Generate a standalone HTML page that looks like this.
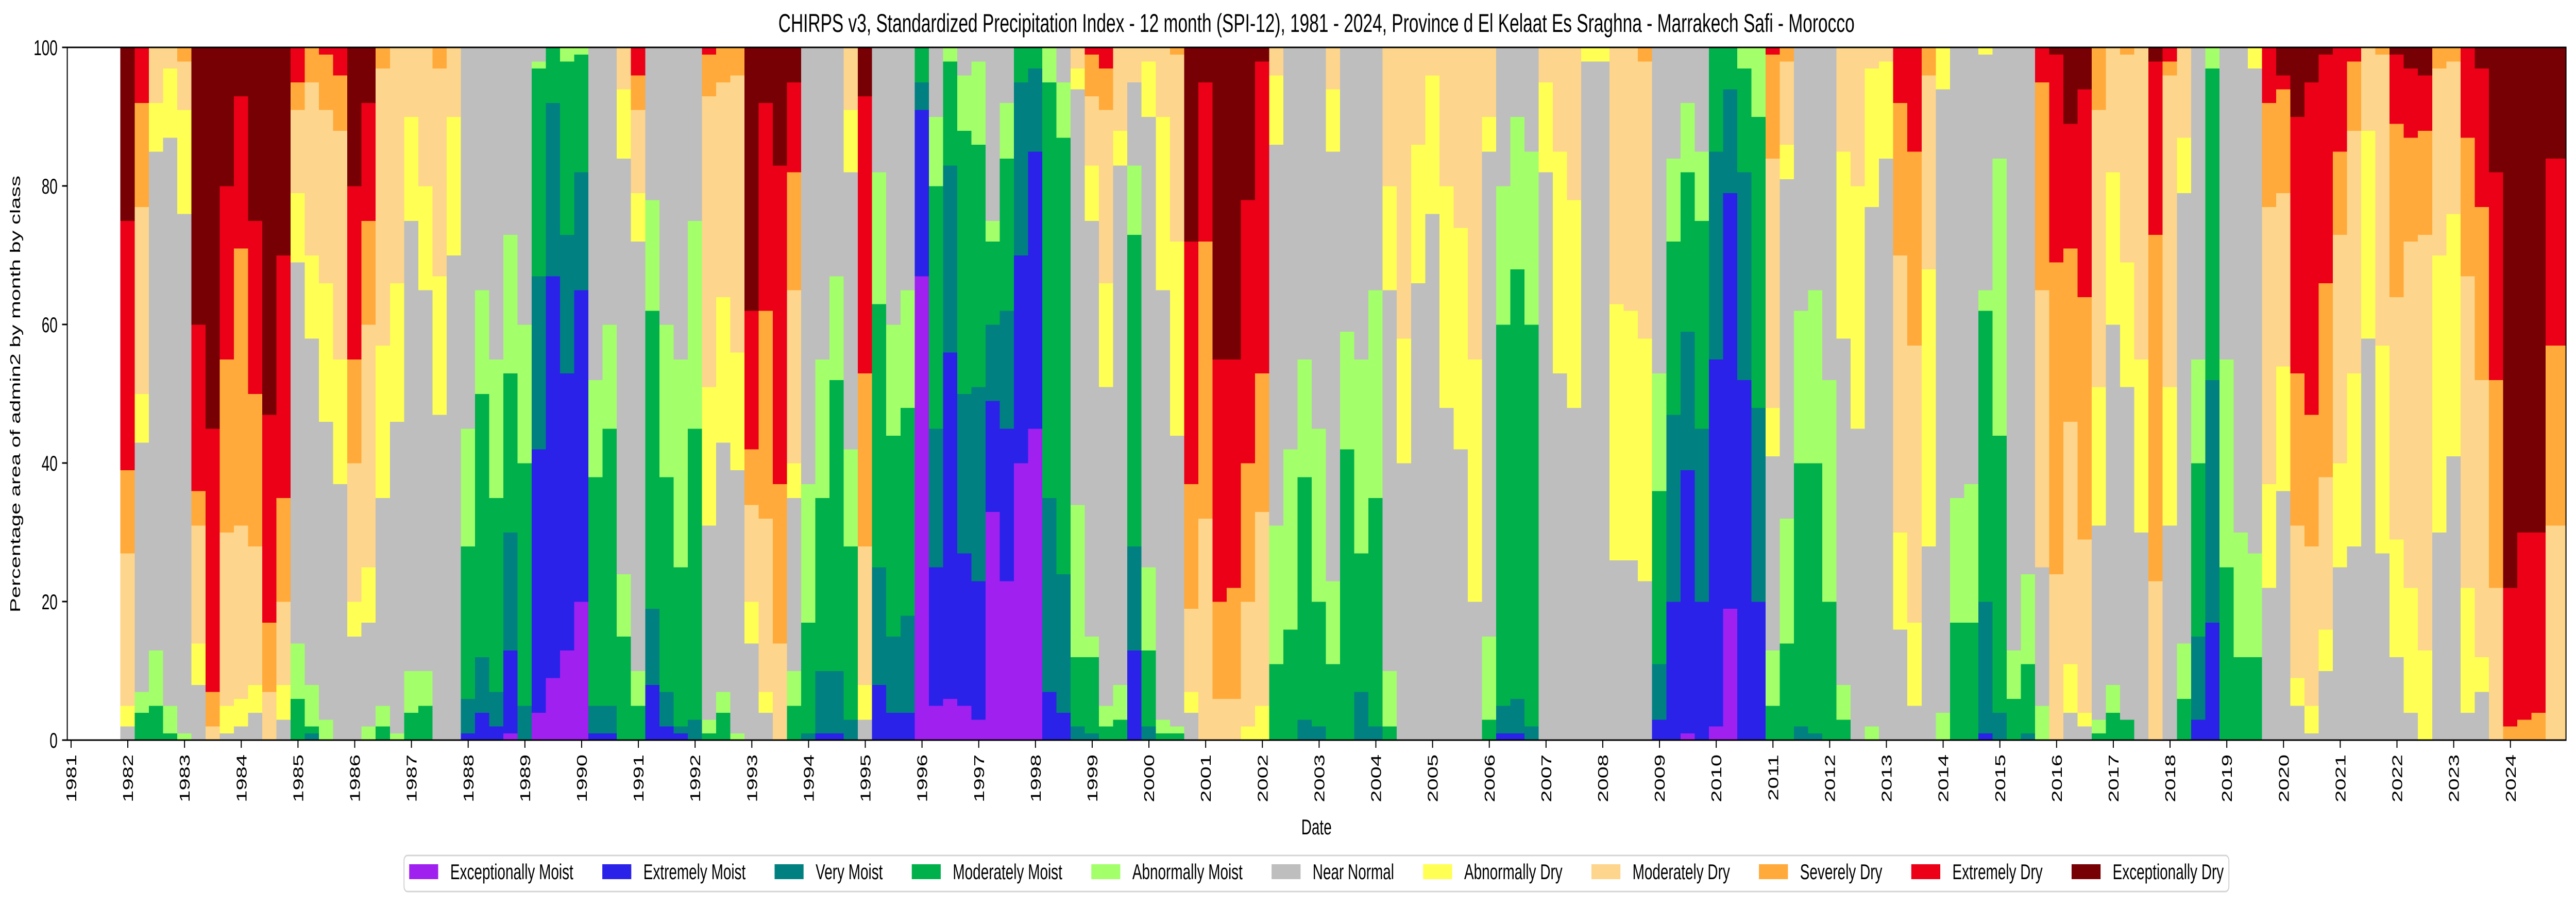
<!DOCTYPE html>
<html>
<head>
<meta charset="utf-8">
<style>
html,body{margin:0;padding:0;background:#fff;overflow:hidden;width:100%;height:100%;}
svg{display:block;width:100vw;height:100vh;}
</style>
</head>
<body>
<svg id="chart" viewBox="0 0 7467 1763" preserveAspectRatio="none" xmlns="http://www.w3.org/2000/svg" font-family="Liberation Sans, sans-serif">
  <rect x="0" y="0" width="7467" height="1763" fill="#fff"/>
  <text x="3816" y="62" font-size="50" text-anchor="middle">CHIRPS v3, Standardized Precipitation Index - 12 month (SPI-12), 1981 - 2024, Province d El Kelaat Es Sraghna - Marrakech Safi - Morocco</text>
  <g id="bars" shape-rendering="crispEdges"></g>
  <g id="yaxis"></g>
  <g id="xaxis"></g>
  <text transform="translate(58,765) rotate(-90)" font-size="41.7" text-anchor="middle">Percentage area of admin2 by month by class</text>
  <text x="3816" y="1620" font-size="41.7" text-anchor="middle">Date</text>
  <rect x="195" y="92" width="7243" height="1345" fill="none" stroke="#000" stroke-width="3"/>
  <g id="legend"></g>
</svg>
<script>
// Classes (bottom to top of stack)
const classNames = ["Exceptionally Moist","Extremely Moist","Very Moist","Moderately Moist","Abnormally Moist","Near Normal","Abnormally Dry","Moderately Dry","Severely Dry","Extremely Dry","Exceptionally Dry"];
const classColors = ["#a020f0","#2a22e8","#008080","#00b14b","#a3ff6a","#bebebe","#ffff54","#fdd58c","#ffaa3a","#eb0018","#770005"];
const startYear = 1981.87; // first quarter start (decimal year)
const yTicks = [0,20,40,60,80,100];
const xTickYears = [1981,1982,1983,1984,1985,1986,1987,1988,1989,1990,1991,1992,1993,1994,1995,1996,1997,1998,1999,2000,2001,2002,2003,2004,2005,2006,2007,2008,2009,2010,2011,2012,2013,2014,2015,2016,2017,2018,2019,2020,2021,2022,2023,2024];

// Quarterly percentage area per class (1982Q1 .. 2024Q4)
const exceptionallyMoist = [0,0,0,0,0,0,0,0,0,0, 0,0,0,0,0,0,0,0,0,0, 0,0,0,0,0,0,0,1,0,4, 9,13,20,0,0,0,0,0,0,0, 0,0,0,0,0,0,0,0,0,0, 0,0,0,0,0,0,67,5,6,5, 3,33,23,40,45,0,0,0,0,0, 0,0,0,0,0,0,0,0,0,0, 0,0,0,0,0,0,0,0,0,0, 0,0,0,0,0,0,0,0,0,0, 0,0,0,0,0,0,0,0,0,0, 1,0,2,19,0,0,0,0,0,0, 0,0,0,0,0,0,0,0,0,0, 0,0,0,0,0,0,0,0,0,0, 0,0,0,0,0,0,0,0,0,0, 0,0,0,0,0,0,0,0,0,0, 0,0,0,0,0,0,0,0,0,0, 0,0];
const extremelyMoist = [0,0,0,0,0,0,0,0,0,0, 0,0,0,0,0,0,0,0,0,0, 0,0,0,0,1,4,2,12,0,38, 58,40,45,1,1,0,0,8,2,1, 0,0,0,0,0,0,0,0,0,1, 1,0,0,8,4,4,24,20,50,22, 20,16,22,30,40,7,4,0,0,0, 0,13,0,0,0,0,0,0,0,0, 0,0,0,0,0,0,0,0,0,0, 0,0,0,0,0,0,0,1,1,0, 0,0,0,0,0,0,0,0,3,20, 38,20,53,60,52,20,0,0,0,0, 0,0,0,0,0,0,0,0,0,0, 0,1,0,0,0,0,0,0,0,0, 0,0,0,0,0,0,3,17,0,0, 0,0,0,0,0,0,0,0,0,0, 0,0,0,0,0,0,0,0,0,0, 0,0];
const veryMoist = [0,0,0,0,0,0,0,0,0,0, 0,0,0,1,0,0,0,0,0,0, 0,0,0,0,5,8,5,17,5,25, 25,20,17,4,4,0,0,11,5,1, 3,0,0,0,0,0,0,0,1,9, 9,3,0,17,11,14,4,20,27,23, 28,11,17,25,12,28,20,2,1,0, 0,15,2,0,0,0,0,0,0,0, 0,0,0,3,2,0,0,7,2,0, 0,0,0,0,0,0,0,4,5,2, 0,0,0,0,0,0,0,0,8,27, 20,25,30,15,30,28,0,0,2,1, 0,0,0,0,0,0,0,0,0,0, 0,19,4,0,1,0,0,0,0,0, 0,0,0,0,0,0,12,35,0,0, 0,0,0,0,0,0,0,0,0,0, 0,0,0,0,0,0,0,0,0,0, 0,0];
const moderatelyMoist = [0,4,5,1,0,0,0,0,0,0, 0,0,6,1,0,0,0,0,2,0, 4,5,0,0,22,38,28,23,35,30, 8,25,17,33,40,15,5,43,31,23, 42,1,4,0,0,0,0,5,16,25, 42,25,0,38,29,30,5,35,15,38, 35,12,22,5,3,60,63,10,11,2, 3,45,11,1,1,0,0,0,0,0, 0,11,16,35,18,11,42,20,33,2, 0,0,0,0,0,0,3,55,62,58, 0,0,0,0,0,0,0,0,25,25, 23,30,15,6,15,42,5,14,38,39, 20,3,0,0,0,0,0,0,0,17, 17,42,40,6,10,0,0,0,0,1, 4,3,0,0,0,6,25,45,25,12, 12,0,0,0,0,0,0,0,0,0, 0,0,0,0,0,0,0,0,0,0, 0,0];
const abnormallyMoist = [0,3,8,4,1,0,0,0,0,0, 0,0,8,6,3,0,0,2,3,1, 6,5,0,0,17,15,20,20,20,1, 0,2,1,14,15,9,5,16,22,30, 30,2,3,1,0,0,0,5,20,20, 15,14,0,19,16,17,0,10,2,8, 12,3,8,0,0,5,8,22,3,3, 5,10,12,2,1,0,0,0,0,0, 0,20,26,17,25,12,17,28,30,8, 0,0,0,0,0,0,12,20,22,25, 0,0,0,0,0,0,0,0,17,12, 10,10,0,0,3,10,8,18,22,25, 32,5,0,2,0,0,0,0,4,18, 20,3,40,7,13,5,0,0,0,2, 4,0,0,0,0,8,15,3,30,18, 15,0,0,0,0,0,0,0,0,0, 0,0,0,0,0,0,0,0,0,0, 0,0];
const nearNormal = [2,36,72,82,75,8,0,1,2,4, 0,3,55,50,43,37,15,15,30,45, 65,55,47,70,55,35,45,27,40,2, 0,0,0,48,40,60,62,22,40,45, 25,28,36,38,14,4,0,25,63,45, 33,40,3,18,40,35,0,10,0,4, 2,25,8,0,0,0,5,60,60,46, 75,12,65,62,42,4,0,0,0,0, 0,55,58,45,55,62,41,45,35,55, 40,66,76,48,42,20,70,20,10,15, 82,53,48,98,98,26,26,23,47,16, 8,15,0,0,0,0,28,49,38,35, 48,50,45,75,84,16,5,28,90,65, 63,34,16,87,76,20,0,4,2,28, 52,48,30,0,31,65,45,0,45,70, 70,22,36,5,1,10,25,28,58,27, 12,4,0,30,41,4,7,0,0,0, 0,0];
const abnormallyDry = [3,7,7,10,15,6,0,4,4,4, 0,5,10,12,20,18,5,8,22,20, 15,15,20,20,0,0,0,0,0,0, 0,0,0,0,0,10,7,0,0,0, 0,20,21,17,6,3,0,5,0,0, 0,9,5,0,0,0,0,0,0,0, 0,0,0,0,0,0,0,3,8,15, 5,0,8,25,28,3,0,0,0,2, 5,10,0,0,0,9,0,0,0,15, 18,20,20,32,32,35,5,0,0,0, 13,32,30,2,2,37,36,35,0,0, 0,0,0,0,0,0,7,5,0,0, 0,27,35,20,14,14,12,40,6,0, 0,1,0,0,0,0,0,7,2,20, 22,18,25,0,20,8,0,0,0,0, 3,15,18,4,4,6,15,25,30,30, 17,18,13,40,35,18,5,0,0,0, 0,0];
const moderatelyDry = [22,27,8,3,7,17,2,25,25,20, 7,12,12,25,25,33,20,35,40,34, 10,20,30,10,0,0,0,0,0,0, 0,0,0,0,0,6,12,0,0,0, 0,42,31,40,14,25,14,25,0,0, 0,9,20,0,0,0,0,0,0,0, 0,0,0,0,0,0,0,3,10,25, 12,5,2,10,27,12,32,6,6,18, 28,4,0,0,0,6,0,0,0,20, 42,14,4,20,26,45,10,0,0,0, 5,15,22,0,0,37,38,40,0,0, 0,0,0,0,0,0,36,12,0,0, 0,15,20,3,2,40,40,28,0,0, 0,0,0,0,0,40,24,35,25,40, 18,30,45,23,45,13,0,0,0,0, 0,40,25,22,23,22,33,35,12,42, 35,50,60,27,22,45,40,22,0,0, 0,31];
const severelyDry = [12,15,0,0,2,5,5,25,40,22, 10,15,4,5,8,8,15,15,3,0, 0,0,3,0,0,0,0,0,0,0, 0,0,0,0,0,0,5,0,0,0, 0,6,5,4,8,30,23,17,0,0, 0,0,25,0,0,0,0,0,0,0, 0,0,0,0,0,0,0,0,6,6, 0,0,0,0,1,18,40,14,16,20, 20,0,0,0,0,0,0,0,0,0, 0,0,0,0,0,0,0,0,0,0, 0,0,0,0,0,0,0,2,0,0, 0,0,0,0,0,0,15,2,0,0, 0,0,0,0,0,22,28,4,0,0, 0,0,0,0,0,30,45,25,35,9, 0,1,0,50,2,0,0,0,0,0, 0,15,15,22,19,28,12,10,0,1, 25,15,15,3,2,20,25,30,2,3, 4,26];
const extremelyDry = [36,8,0,0,0,24,38,25,22,25, 30,35,5,0,1,4,25,17,0,0, 0,0,0,0,0,0,0,0,0,0, 0,0,0,0,0,0,4,0,0,0, 0,1,0,0,20,30,46,13,0,0, 0,0,40,0,0,0,0,0,0,0, 0,0,0,0,0,0,0,0,1,3, 0,0,0,0,0,35,23,35,33,38, 45,0,0,0,0,0,0,0,0,0, 0,0,0,0,0,0,0,0,0,0, 0,0,0,0,0,0,0,0,0,0, 0,0,0,0,0,0,1,0,0,0, 0,0,0,0,0,8,15,0,0,0, 0,0,0,0,0,5,30,18,30,0, 0,0,0,25,2,0,0,0,0,0, 0,8,2,37,48,33,15,2,0,0, 10,10,8,0,0,13,20,30,20,27, 26,27];
const exceptionallyDry = [25,0,0,0,0,40,55,20,7,25, 53,30,0,0,0,0,20,8,0,0, 0,0,0,0,0,0,0,0,0,0, 0,0,0,0,0,0,0,0,0,0, 0,0,0,0,38,8,17,5,0,0, 0,0,7,0,0,0,0,0,0,0, 0,0,0,0,0,0,0,0,0,0, 0,0,0,0,0,28,5,45,45,22, 2,0,0,0,0,0,0,0,0,0, 0,0,0,0,0,0,0,0,0,0, 0,0,0,0,0,0,0,0,0,0, 0,0,0,0,0,0,0,0,0,0, 0,0,0,0,0,0,0,0,0,0, 0,0,0,0,0,0,1,11,6,0, 0,0,0,2,0,0,0,0,0,0, 0,0,4,10,5,1,0,0,0,0, 1,3,4,0,0,0,3,18,78,70, 70,16];

const series = [exceptionallyMoist,extremelyMoist,veryMoist,moderatelyMoist,abnormallyMoist,nearNormal,abnormallyDry,moderatelyDry,severelyDry,extremelyDry,exceptionallyDry];
const NS = "http://www.w3.org/2000/svg";
const PLOT_L = 195, PLOT_R = 7438, PLOT_T = 92, PLOT_B = 1437;
function xScale(t){ return 206 + (t - 1981) * 164.44; }
function yScale(p){ return PLOT_B - p * (PLOT_B - PLOT_T) / 100; }

const barsG = document.getElementById('bars');
const nQ = nearNormal.length;
for (let q = 0; q < nQ; q++) {
  let total = 0;
  for (let c = 0; c < series.length; c++) total += (series[c][q] || 0);
  if (total <= 0) continue;
  const x0 = xScale(startYear + q * 0.25);
  const x1 = (q === nQ - 1) ? PLOT_R : xScale(startYear + (q + 1) * 0.25);
  let cum = 0;
  for (let c = 0; c < series.length; c++) {
    const v = (series[c][q] || 0) / total * 100;
    if (v <= 0) continue;
    const yTop = yScale(cum + v), yBot = yScale(cum);
    const r = document.createElementNS(NS, 'rect');
    
    
    r.setAttribute('x', x0.toFixed(2));
    r.setAttribute('y', yTop.toFixed(2));
    r.setAttribute('width', (x1 - x0 + 0.6).toFixed(2));
    r.setAttribute('height', (yBot - yTop + 0.6).toFixed(2));
    r.setAttribute('fill', classColors[c]);
    barsG.appendChild(r);
    cum += v;
  }
}

// Y axis
const yG = document.getElementById('yaxis');
yTicks.forEach(function(v){
  const y = yScale(v);
  const ln = document.createElementNS(NS, 'line');
  
  
  ln.setAttribute('x1', PLOT_L - 15); ln.setAttribute('x2', PLOT_L);
  ln.setAttribute('y1', y); ln.setAttribute('y2', y);
  ln.setAttribute('stroke', '#000'); ln.setAttribute('stroke-width', '3');
  yG.appendChild(ln);
  const tx = document.createElementNS(NS, 'text');
  
  
  tx.setAttribute('x', PLOT_L - 28); tx.setAttribute('y', y + 15);
  tx.setAttribute('font-size', '41.7'); tx.setAttribute('text-anchor', 'end');
  tx.textContent = v;
  yG.appendChild(tx);
});

// X axis
const xG = document.getElementById('xaxis');
xTickYears.forEach(function(yr){
  const x = xScale(yr);
  const ln = document.createElementNS(NS, 'line');
  
  
  ln.setAttribute('x1', x); ln.setAttribute('x2', x);
  ln.setAttribute('y1', PLOT_B); ln.setAttribute('y2', PLOT_B + 15);
  ln.setAttribute('stroke', '#000'); ln.setAttribute('stroke-width', '3');
  xG.appendChild(ln);
  const tx = document.createElementNS(NS, 'text');
  
  
  tx.setAttribute('transform', 'translate(' + (x + 15) + ',' + (PLOT_B + 28) + ') rotate(-90)');
  tx.setAttribute('font-size', '41.7'); tx.setAttribute('text-anchor', 'end');
  tx.textContent = yr;
  xG.appendChild(tx);
});

// Legend (inside SVG so it scales with the chart)
const lg = document.getElementById('legend');
const box = document.createElementNS(NS, 'rect');


box.setAttribute('y', 1661); box.setAttribute('height', 70);
box.setAttribute('rx', 10); box.setAttribute('fill', '#fff');
box.setAttribute('stroke', '#d4d4d4'); box.setAttribute('stroke-width', '3');
lg.appendChild(box);
const entries = [];
let totalW = 0;
classNames.forEach(function(name, i){
  const g = document.createElementNS(NS, 'g');
  
  
  const p = document.createElementNS(NS, 'rect');
  
  
  p.setAttribute('y', 1678); p.setAttribute('width', 84); p.setAttribute('height', 29);
  p.setAttribute('fill', classColors[i]);
  const t = document.createElementNS(NS, 'text');
  
  
  t.setAttribute('y', 1707); t.setAttribute('font-size', '41.7');
  t.textContent = name;
  g.appendChild(p); g.appendChild(t);
  lg.appendChild(g);
  let w = 0;
  try { w = t.getComputedTextLength(); } catch(e) { w = 0; }
  if (!w) w = name.length * 21;
  entries.push({p: p, t: t, w: w});
  totalW += 84 + 35 + w;
});
totalW += 84 * (classNames.length - 1);
let cx = 3816 - totalW / 2;
box.setAttribute('x', (cx - 15).toFixed(1));
box.setAttribute('width', (totalW + 30).toFixed(1));
entries.forEach(function(e){
  e.p.setAttribute('x', cx.toFixed(1));
  e.t.setAttribute('x', (cx + 119).toFixed(1));
  cx += 119 + e.w + 84;
});
</script>
</body>
</html>
